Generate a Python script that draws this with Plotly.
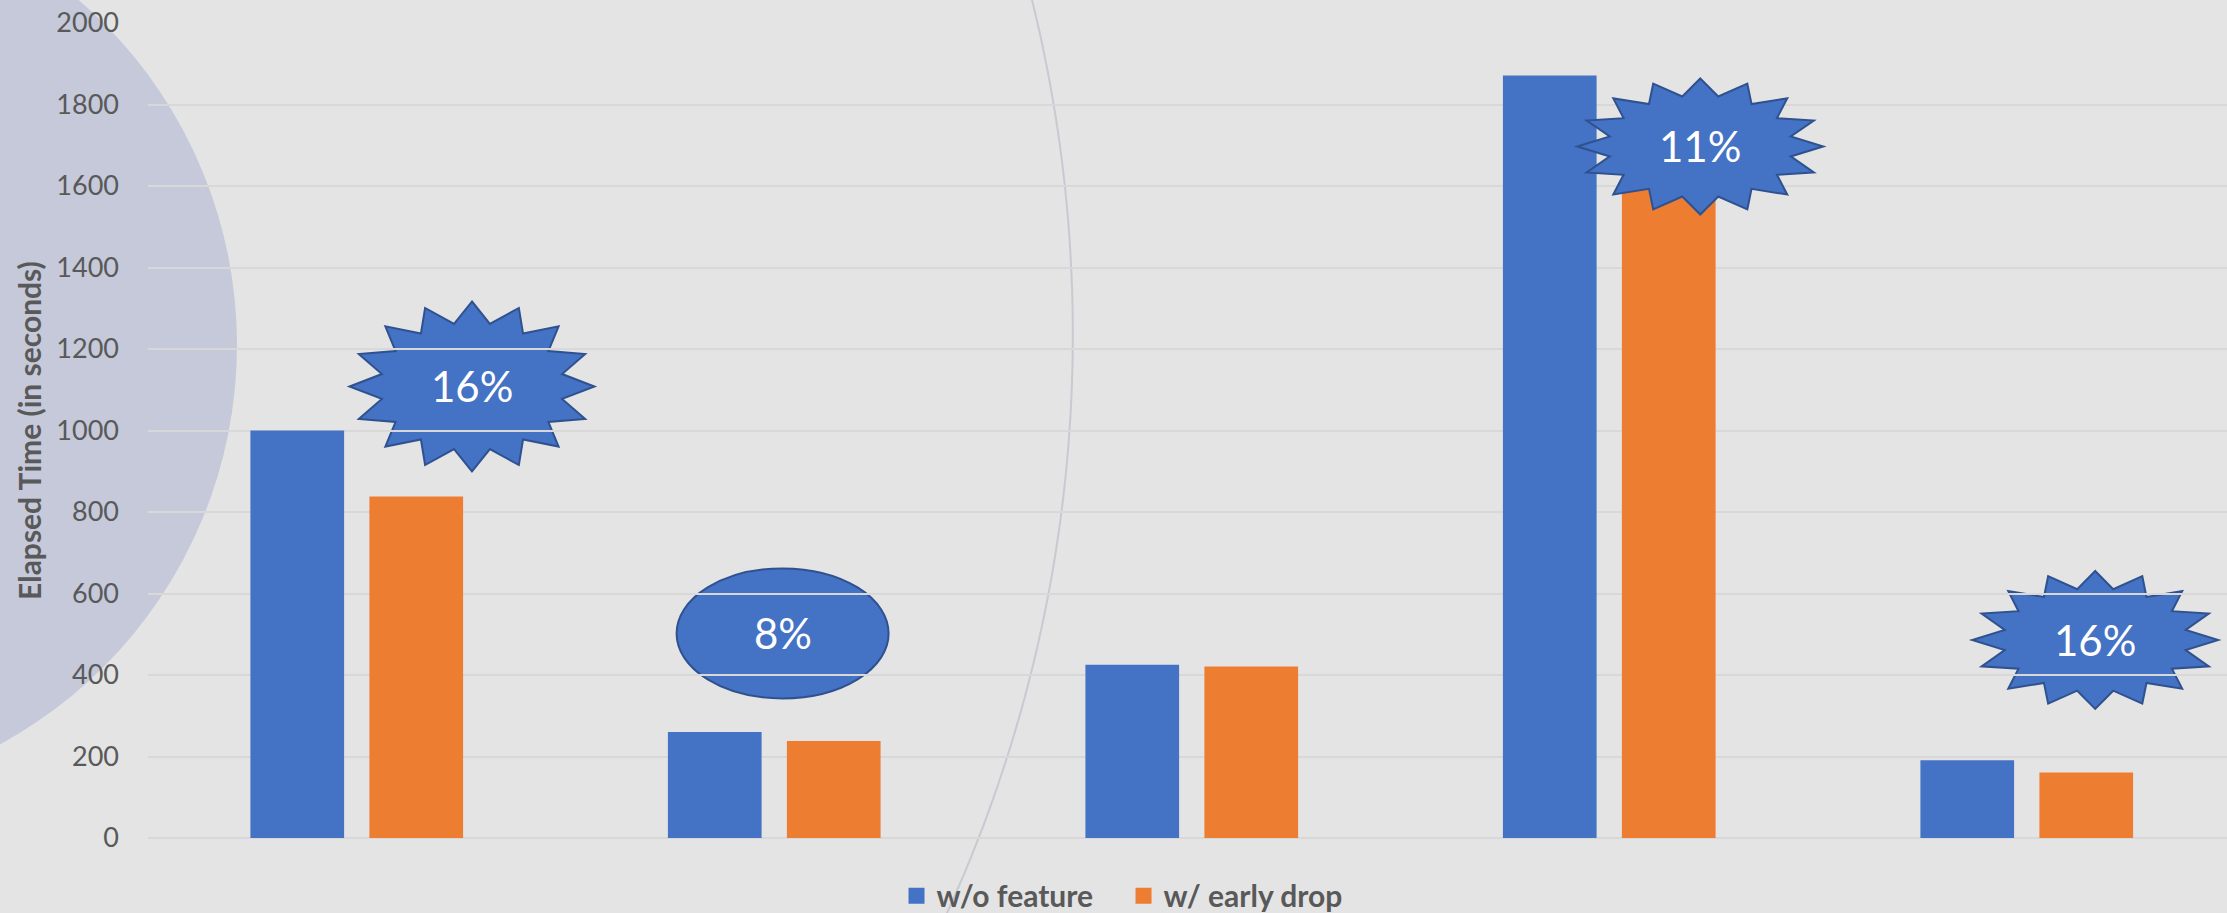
import numpy as np
import plotly.graph_objects as go

# ---------------- data ----------------
categories = ["Query 1", "Query 2", "Query 3", "Query 4", "Query 5"]
wo_feature = [1000, 260, 425, 1871, 191]
early_drop = [838, 238, 421, 1665, 161]
series_names = ["w/o feature", "w/ early drop"]
callout_labels = ["16%", "8%", "11%", "16%"]
callout_categories = [0, 1, 3, 4]
y_ticks = [0, 200, 400, 600, 800, 1000, 1200, 1400, 1600, 1800, 2000]

# ---------------- layout constants ----------------
W, H = 2227, 913
ML, MR, MT, MB = 148, 0, 23, 75
CAT_PX = 417.5
PLOT_W = W - ML - MR
PLOT_H = H - MT - MB
Y_MAX = 2000
PX_PER_Y = PLOT_H / Y_MAX
x_range = [-0.5, -0.5 + PLOT_W / CAT_PX]

BLUE = "#4472C4"
ORANGE = "#ED7D31"
OUTLINE = "#2F528F"
TEXT_GRAY = "#595959"
GRID = "#d8d8d8"
BG = "#e4e4e4"

x_pos = list(range(len(categories)))

fig = go.Figure()
fig.add_trace(go.Bar(x=x_pos, y=wo_feature, name=series_names[0],
                     marker=dict(color=BLUE, line=dict(width=0)), showlegend=False))
fig.add_trace(go.Bar(x=x_pos, y=early_drop, name=series_names[1],
                     marker=dict(color=ORANGE, line=dict(width=0)), showlegend=False))
# legend swatches
for nm, col in zip(series_names, [BLUE, ORANGE]):
    fig.add_trace(go.Scatter(x=[None], y=[None], mode="markers", name=nm,
                             marker=dict(symbol="square", size=16, color=col)))

shapes = []


def px_to_paper(px, py):
    return (px - ML) / PLOT_W, (H - MB - py) / PLOT_H


# background circle (paper coords)
ccx, ccy, cr = -218, 345, 455
x0, y0 = px_to_paper(ccx - cr, ccy + cr)
x1, y1 = px_to_paper(ccx + cr, ccy - cr)
shapes.append(dict(type="circle", xref="paper", yref="paper", x0=x0, y0=y0, x1=x1, y1=y1,
                   fillcolor="#c5c9da", line=dict(width=0), layer="below"))

# decorative arc line
acx, acy, ar = -319.5, 334.6, 1392.3
ys = np.linspace(-5, H + 5, 80)
xs = acx + np.sqrt(ar ** 2 - (ys - acy) ** 2)
pts = [px_to_paper(a, b) for a, b in zip(xs, ys)]
path = "M" + " L".join(f"{p[0]:.5f},{p[1]:.5f}" for p in pts)
shapes.append(dict(type="path", xref="paper", yref="paper", path=path,
                   line=dict(color="#c9c9d2", width=2), layer="below"))


def star_path(cx, cy, rx_px, ry_px, n=16, inner=0.75):
    parts = []
    for k in range(2 * n):
        ang = -np.pi / 2 + k * np.pi / n
        r = 1.0 if k % 2 == 0 else inner
        dx = r * rx_px * np.cos(ang)
        dy = r * ry_px * np.sin(ang)
        parts.append((cx + dx / CAT_PX, cy - dy / PX_PER_Y))
    return "M" + " L".join(f"{a:.5f},{b:.3f}" for a, b in parts) + " Z"


# callout placement (category offset, y value, rx px, ry px, kind, layer)
callout_style = [
    (0.276, 1108, 122.5, 85, "star", "below"),
    (0.020, 502, 106, 65, "ellipse", "below"),
    (0.218, 1697, 123, 68, "star", "above"),
    (0.164, 486, 123, 69, "star", "below"),
]

annotations = []
for lab, ci, (off, yv, rx, ry, kind, layer) in zip(callout_labels, callout_categories, callout_style):
    cx = x_pos[ci] + off
    if kind == "star":
        shapes.append(dict(type="path", xref="x", yref="y", path=star_path(cx, yv, rx, ry),
                           fillcolor=BLUE, line=dict(color=OUTLINE, width=2), layer=layer))
    else:
        shapes.append(dict(type="circle", xref="x", yref="y",
                           x0=cx - rx / CAT_PX, x1=cx + rx / CAT_PX,
                           y0=yv - ry / PX_PER_Y, y1=yv + ry / PX_PER_Y,
                           fillcolor=BLUE, line=dict(color=OUTLINE, width=2), layer=layer))
    annotations.append(dict(x=cx, y=yv, xref="x", yref="y", text=lab, showarrow=False,
                            font=dict(family="Lato", size=42, color="white")))

annotations.append(dict(x=(28.5 - ML) / PLOT_W, y=0.5, xref="paper", yref="paper",
                        xanchor="center", yanchor="middle",
                        text="<b>Elapsed Time (in seconds)</b>", textangle=-90, showarrow=False,
                        font=dict(family="Lato", size=30, color=TEXT_GRAY)))

fig.update_layout(
    width=W, height=H,
    margin=dict(l=ML, r=MR, t=MT, b=MB, pad=0),
    paper_bgcolor=BG, plot_bgcolor="rgba(0,0,0,0)",
    barmode="group", bargap=0.43, bargroupgap=0.2126,
    shapes=shapes, annotations=annotations,
    legend=dict(orientation="h", xref="container", yref="container",
                x=0.5045, y=0.019, xanchor="center", yanchor="middle",
                entrywidth=182, entrywidthmode="pixels",
                font=dict(family="Lato", size=30, color=TEXT_GRAY, weight="bold"),
                bgcolor="rgba(0,0,0,0)", itemclick=False),
    font=dict(family="Lato"),
)
fig.update_xaxes(range=x_range, showticklabels=False, showgrid=False, zeroline=False,
                 showline=False, ticks="")
fig.update_yaxes(range=[0, Y_MAX], tickvals=y_ticks, gridcolor=GRID, gridwidth=1.5,
                 zeroline=True, zerolinecolor=GRID, zerolinewidth=1.5, showline=False,
                 ticks="", ticklabelstandoff=28,
                 tickfont=dict(family="Lato", size=27, color=TEXT_GRAY))

fig.write_html("out.html", config={"displayModeBar": False},
               post_script="document.body.style.margin='0';document.body.style.overflow='hidden';")
